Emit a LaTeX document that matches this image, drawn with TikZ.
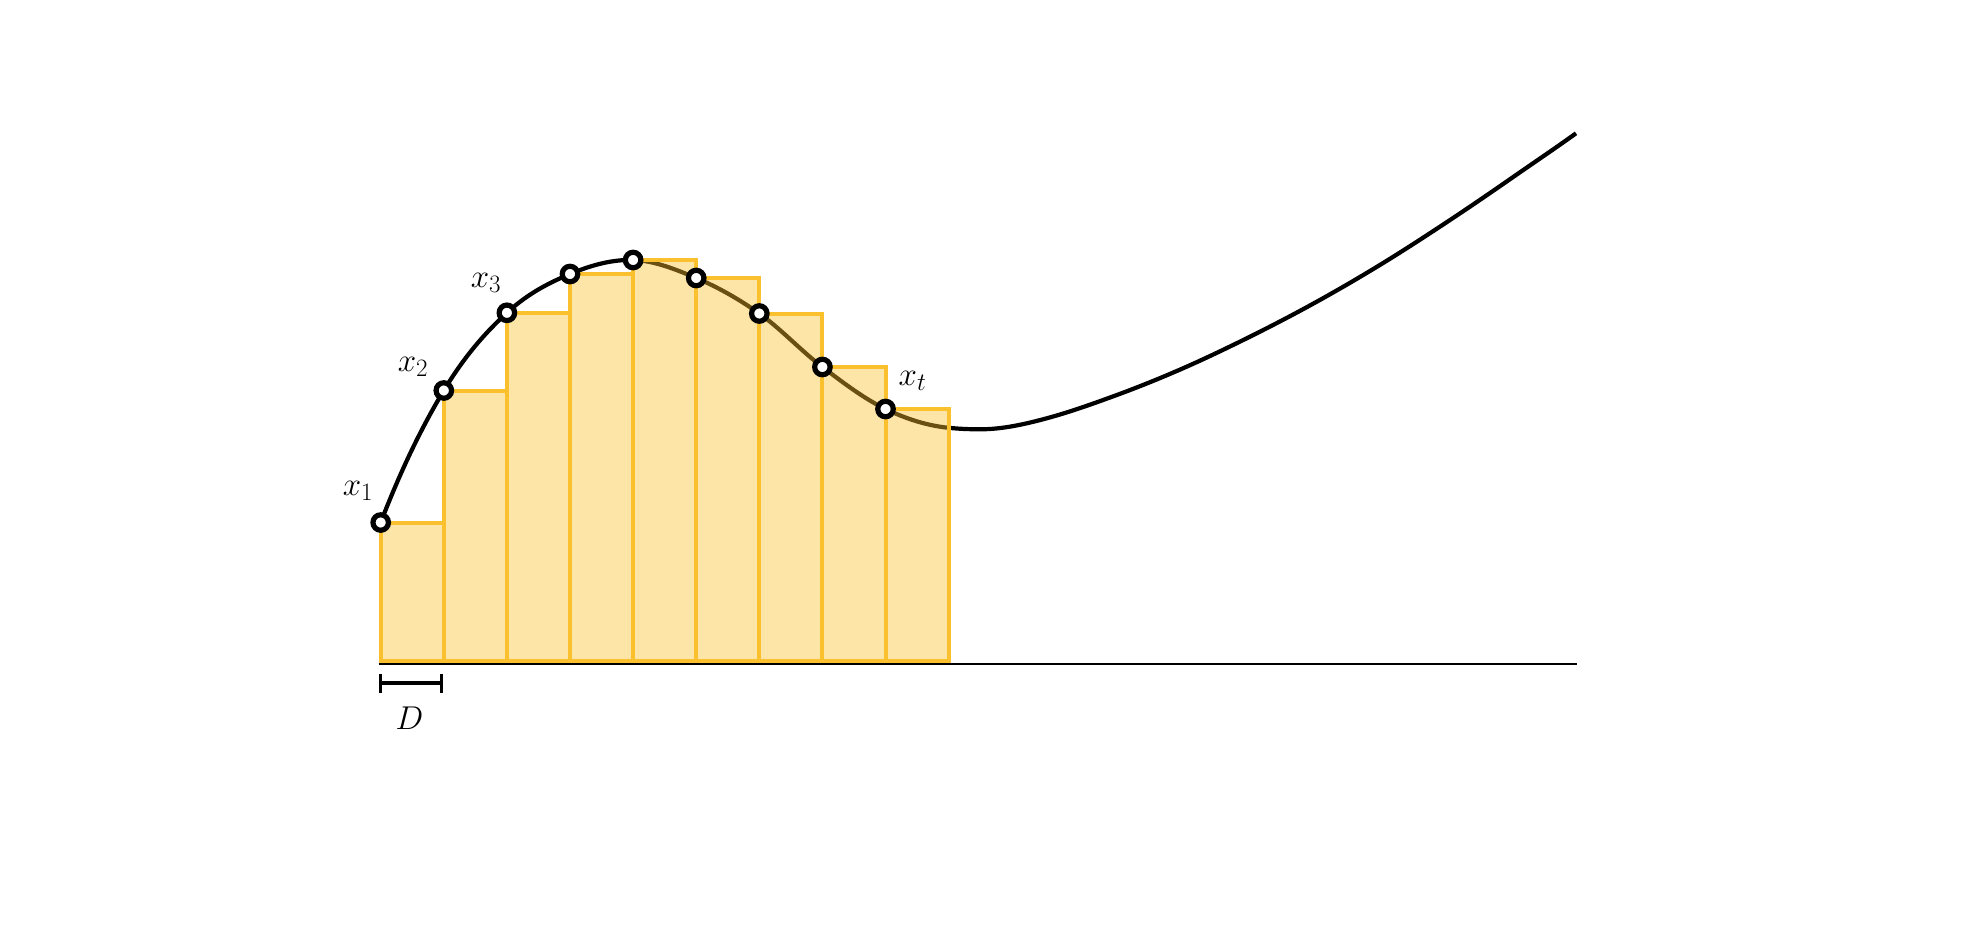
\documentclass[tikz,border=0pt]{standalone}
\usepackage{fix-cm}
\DeclareMathSizes{33}{33}{25}{19}
\definecolor{amber}{HTML}{FBC02D}
\begin{document}
\begin{tikzpicture}[x=1pt,y=-1pt,
  curve/.style={line width=4.2pt,black},
  bar/.style={draw=amber,fill=amber,fill opacity=0.42,line width=4pt,line join=miter},
  axisline/.style={line width=2.2pt,black},
  dotc/.style={circle,draw=black,fill=white,line width=5.2pt,minimum size=15.5pt,inner sep=0pt},
  lbl/.style={inner sep=0pt,font=\fontsize{33}{39}\selectfont},
  bracket/.style={line width=3.5pt,black}]
\useasboundingbox (0,0) rectangle (1962,930);
% sample points (left edges of the bars)
\coordinate (c1) at (380.7,522.5);
\coordinate (c2) at (443.8,390.5);
\coordinate (c3) at (506.9,312.8);
\coordinate (c4) at (570.0,274.0);
\coordinate (c5) at (633.1,260.0);
\coordinate (c6) at (696.2,278.0);
\coordinate (c7) at (759.3,313.5);
\coordinate (c8) at (822.4,367.0);
\coordinate (c9) at (885.5,409.0);
\coordinate (c10) at (948.6,427.8);
\coordinate (m) at (980,429.3);
\coordinate (e) at (1576,133.3);
% curve
\draw[curve] (c1)
  .. controls (401.73,467.81) and (422.77,425.42) .. (c2)
  .. controls (464.83,355.58) and (485.87,332.15) .. (c3)
  .. controls (527.93,293.45) and (548.97,282.83) .. (c4)
  .. controls (591.03,265.17) and (612.07,259.37) .. (c5)
  .. controls (654.13,260.63) and (675.17,269.17) .. (c6)
  .. controls (717.23,286.83) and (738.27,298.67) .. (c7)
  .. controls (780.33,328.33) and (801.37,351.08) .. (c8)
  .. controls (843.43,382.92) and (864.47,398.90) .. (c9)
  .. controls (906.53,419.10) and (927.57,425.70) .. (c10)
  .. controls (959.07,428.85) and (969.53,429.3) .. (m)
  .. controls (1002.23,429.3) and (1024.47,424.3) .. (1046.7,418.3)
  .. controls (1068.93,412.3) and (1091.07,404.41) .. (1113.3,396.3)
  .. controls (1135.53,388.19) and (1157.77,379.27) .. (1180,369.6)
  .. controls (1202.23,359.93) and (1224.47,349.3) .. (1246.7,338.3)
  .. controls (1268.93,327.3) and (1291.07,315.83) .. (1313.3,303.6)
  .. controls (1335.53,291.37) and (1357.77,278.46) .. (1380,264.9)
  .. controls (1402.23,251.34) and (1424.47,236.87) .. (1446.7,222.2)
  .. controls (1468.93,207.53) and (1491.07,192.35) .. (1513.3,176.9)
  .. controls (1534.2,162.37) and (1555.1,148.35) .. (e);
% bars
\foreach \i/\top in {1/522.5,2/390.5,3/312.8,4/274.0,5/260.0,6/278.0,7/313.5,8/367.0,9/409.0}{
  \pgfmathsetmacro{\xl}{380.7+63.1*(\i-1)}
  \draw[bar] (\xl,661) rectangle ({\xl+63.1},\top);
}
% axis
\coordinate (a0) at (378.5,664);
\coordinate (a1) at (1577,664);
\draw[axisline] (a0) -- (a1);
% points
\foreach \i in {1,...,9}{
  \node[dotc] (p\i) at (c\i) {};
}
% labels
\node[lbl] (l1) at (358,491) {$x_1$};
\node[lbl] (l2) at (413,367) {$x_2$};
\node[lbl] (l3) at (486,282.5) {$x_3$};
\node[lbl] (lt) at (912.5,381) {$x_t$};
% width bracket
\coordinate (b0) at (380.5,683);
\coordinate (b1) at (441.5,683);
\draw[bracket] (b0) -- (b1);
\draw[bracket] ([yshift=-9.5pt]b0) -- ([yshift=9.5pt]b0);
\draw[bracket] ([yshift=-9.5pt]b1) -- ([yshift=9.5pt]b1);
\node[lbl] (ld) at (409.5,718) {$D$};
\end{tikzpicture}
\end{document}
